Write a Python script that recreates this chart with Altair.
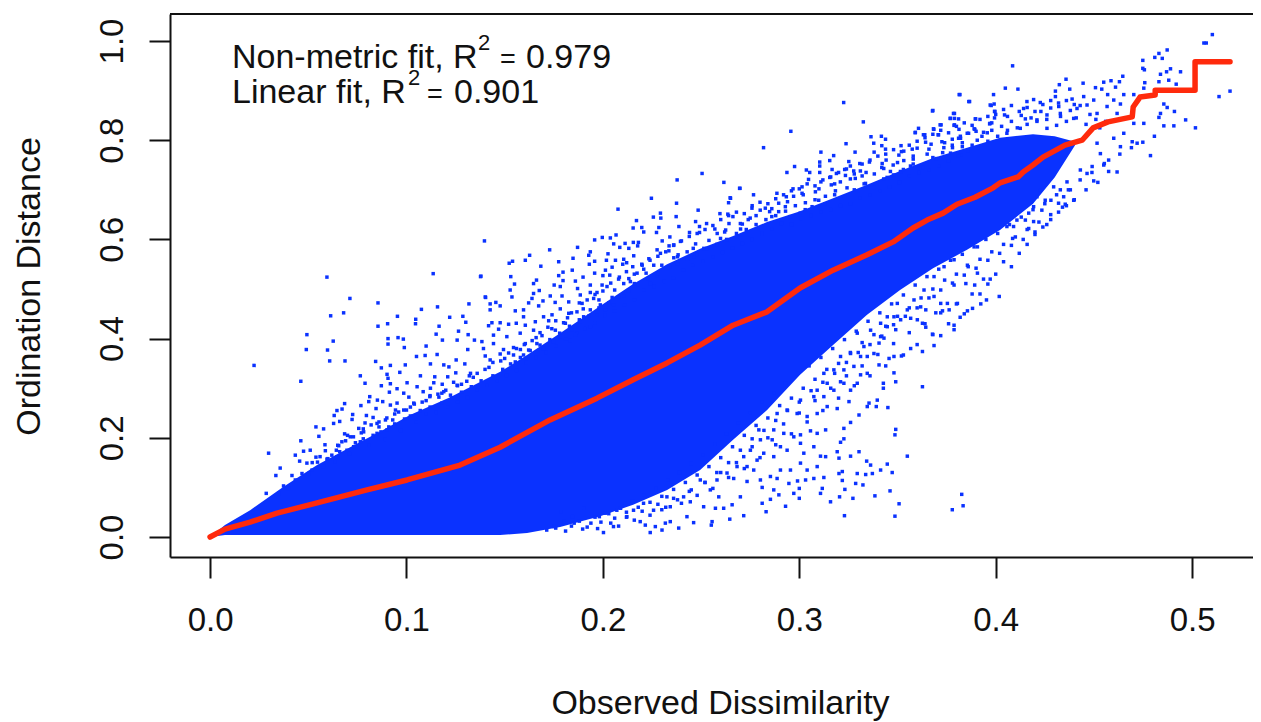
import altair as alt
import pandas as pd

BLUE = "#0A32FF"
RED = "#FF2A0C"
INK = "#111111"
FONT = "Liberation Sans"

# dense core of the cloud
core_x = [0, .0076, .0204, .0372, .0545, .0713, .0881, .1018, .1222, .1477, .1614, .1782, .1986, .2154, .2327, .2495, .2663, .2836, .3004, .3172, .3345, .3513, .3681, .3854, .4022, .4190, .4300, .4404]
core_hi = [0, .024, .054, .101, .145, .181, .216, .246, .282, .333, .367, .411, .466, .510, .550, .581, .607, .635, .657, .683, .710, .738, .764, .785, .805, .812, .808, .797]
core_lo = [0, .004, .004, .004, .004, .004, .004, .004, .004, .004, .008, .020, .042, .065, .095, .135, .196, .256, .327, .387, .448, .498, .542, .579, .619, .672, .725, .790]

# monotone fit
fit_x = [0, .0076, .0204, .0341, .0545, .0799, .1003, .1273, .1477, .1731, .1970, .2154, .2327, .2495, .2663, .2836, .3004, .3172, .3345, .3478, .3579, .3651, .3732, .3803, .3895, .3987, .4022, .4114, .4140, .4190, .4241, .4353, .4440, .4496, .4572, .4695, .4700, .4735, .4812, .4812, .5015, .5015, .5193]
fit_y = [0, .016, .030, .048, .069, .095, .115, .145, .181, .236, .280, .317, .351, .387, .427, .454, .502, .538, .569, .595, .623, .639, .653, .671, .685, .704, .714, .726, .736, .750, .766, .790, .800, .825, .837, .847, .867, .887, .891, .901, .901, .958, .958]

# individually read points, by region of the plot
upper_left = [(.0595,.524),(.1136,.531),(.1379,.526),(.0712,.481),(.1403,.483),(.0855,.472),(.068,.452),(.0614,.446),(.1158,.464),(.1076,.459),(.1318,.470),(.1047,.439),(.0954,.445),(.122,.443),(.1287,.445),(.0904,.430),(.0855,.425),(.1046,.430),(.1166,.425),(.1302,.433),(.0493,.408),(.1265,.415),(.1151,.409),(.0906,.400),(.0957,.402),(.0984,.399),(.1183,.397),(.1258,.397),(.1314,.408),(.1346,.397),(.0627,.395),(.0906,.389),(.11,.385),(.0989,.382),(.049,.378),(.0598,.377),(.1312,.378),(.1051,.364),(.1095,.366),(.1156,.368),(.0609,.355),(.0687,.355),(.0224,.346),(.0843,.354),(.1253,.357),(.1122,.349),(.0994,.347),(.0918,.346),(.0872,.341),(.119,.347),(.1297,.349),(.1216,.343),(.0966,.332),(.0765,.325),(.0901,.328),(.1071,.325),(.1144,.323),(.121,.323),(.1251,.331),(.1326,.330),(.0462,.314),(.0906,.320),(.0789,.310),(.1139,.311),(.1307,.314),(.0918,.309),(.1003,.311),(.0872,.305),(.1054,.303),(.1182,.308),(.0952,.299),(.1122,.300),(.1258,.306),(.0913,.292),(.0986,.290),(.1085,.293),(.119,.293),(.0813,.283),(.1119,.283),(.1012,.282),(.1224,.286),(.0685,.269),(.0808,.273),(.0852,.276),(.0879,.273),(.0768,.265),(.0952,.270),(.1037,.270),(.1165,.282),(.0672,.258),(.0646,.255),(.0845,.259),(.0918,.266),(.0632,.245),(.0726,.247),(.0796,.245),(.083,.241),(.0944,.256),(.0986,.256),(.0723,.237),(.0629,.229),(.066,.233),(.0789,.230),(.085,.229),(.0893,.236),(.0539,.222),(.0578,.218),(.0757,.219),(.0782,.212),(.0901,.216),(.0685,.208),(.0554,.203),(.0714,.202),(.0462,.194),(.0585,.186),(.0765,.192),(.085,.209),(.0671,.192),(.0655,.184),(.051,.175),(.0476,.173),(.0298,.169),(.0587,.174),(.0643,.175),(.0731,.182),(.0697,.175),(.0434,.165),(.0539,.161),(.0595,.157),(.0646,.162),(.0456,.153),(.0493,.149),(.0547,.151),(.0637,.152),(.0357,.139),(.0519,.135),(.0578,.142),(.0335,.124),(.0417,.124),(.0468,.128),(.0502,.128),(.0374,.103),(.0434,.115),(.0286,.088),(.0349,.088),(.0399,.098)]

upper_mid = [(.2505,.733),(.2378,.720),(.2616,.715),(.2698,.703),(.2247,.683),(.265,.683),(.264,.674),(.2375,.673),(.2077,.661),(.2485,.659),(.2293,.653),(.2596,.652),(.2636,.651),(.2257,.645),(.2295,.643),(.2373,.646),(.2662,.646),(.2171,.638),(.2472,.636),(.2528,.632),(.2642,.632),(.274,.640),(.271,.631),(.2154,.623),(.2198,.624),(.2285,.624),(.2387,.626),(.2492,.626),(.257,.621),(.2625,.619),(.2208,.615),(.2273,.614),(.2441,.614),(.2492,.614),(.2701,.621),(.2067,.609),(.1997,.604),(.1958,.599),(.1397,.597),(.2038,.603),(.2341,.605),(.2302,.597),(.2395,.596),(.2472,.591),(.2582,.612),(.2599,.602),(.2684,.605),(.2055,.591),(.2113,.592),(.2155,.594),(.2181,.594),(.2337,.587),(.2361,.589),(.1871,.584),(.1729,.579),(.2086,.584),(.2132,.582),(.2177,.587),(.2276,.579),(.2336,.577),(.2429,.575),(.2514,.582),(.1936,.575),(.1627,.568),(.2026,.571),(.1928,.568),(.2157,.567),(.2383,.569),(.2463,.565),(.2293,.572),(.1605,.558),(.154,.556),(.1523,.552),(.1775,.555),(.1848,.562),(.1958,.556),(.2018,.558),(.2064,.558),(.2106,.560),(.2234,.561),(.2361,.563),(.1931,.550),(.2101,.550),(.2198,.550),(.2121,.553),(.1684,.546),(.2259,.548),(.2047,.544),(.2152,.545),(.2208,.540),(.1797,.534),(.1844,.538),(.1958,.532),(.2013,.538),(.2341,.545),(.1377,.525),(.1531,.525),(.1775,.527),(.1899,.524),(.2,.527),(.2035,.528),(.2084,.524),(.2174,.532),(.2276,.526),(.2132,.521),(.1797,.517),(.186,.516),(.1662,.518),(.155,.510),(.1752,.508),(.1783,.505),(.1936,.508),(.1647,.511),(.1996,.508),(.2021,.505),(.2106,.511),(.216,.511),(.2242,.511),(.1528,.498),(.1871,.501),(.1676,.497),(.1647,.491),(.1732,.486),(.1792,.486),(.1885,.488),(.1936,.493),(.197,.493),(.1401,.484),(.1537,.484),(.1639,.481),(.2047,.483),(.2106,.486),(.1757,.473),(.1826,.474),(.1894,.471),(.1953,.481),(.1455,.473),(.1426,.470),(.1477,.466),(.1622,.472),(.1695,.476),(.1673,.466),(.1987,.468),(.2055,.468),(.1426,.458),(.1554,.456),(.1596,.458),(.1783,.460),(.1826,.451),(.1868,.454),(.1936,.458),(.2013,.458),(.1596,.444),(.1698,.444),(.1741,.448),(.1902,.444),(.197,.448),(.1418,.426),(.1477,.432),(.152,.429),(.1559,.431),(.1605,.427),(.1656,.434),(.1724,.436),(.1809,.431),(.1885,.434),(.1435,.432),(.1469,.419),(.1579,.411),(.1647,.417),(.1758,.417),(.1843,.417),(.1936,.424),(.1443,.407),(.1511,.404),(.169,.406),(.1783,.404),(.1868,.411),(.1384,.394),(.1443,.390),(.1605,.390),(.1664,.390),(.1749,.394),(.1834,.396),(.1392,.380),(.1494,.378),(.1545,.382),(.1622,.377),(.1698,.380),(.1477,.369),(.1545,.367),(.1401,.365),(.1426,.357),(.1554,.353),(.1596,.367)]

upper_right = [(.3818,.892),(.3867,.878),(.3226,.876),(.3977,.870),(.368,.860),(.3996,.858),(.379,.854),(.377,.844),(.3898,.843),(.379,.844),(.3326,.837),(.3722,.831),(.379,.831),(.3971,.834),(.2957,.818),(.3607,.824),(.3685,.822),(.3813,.822),(.3894,.822),(.3591,.816),(.3639,.811),(.3707,.811),(.3957,.815),(.3365,.807),(.3418,.808),(.3439,.802),(.3779,.802),(.3821,.804),(.3855,.814),(.3643,.796),(.3726,.797),(.3379,.794),(.3238,.793),(.3671,.792),(.3779,.790),(.2818,.785),(.342,.789),(.3518,.789),(.383,.787),(.3906,.800),(.3439,.782),(.36,.784),(.3736,.785),(.311,.776),(.3284,.776),(.3381,.776),(.3532,.778),(.3575,.782),(.3651,.772),(.377,.774),(.3175,.769),(.3507,.770),(.3697,.763),(.3821,.770),(.3104,.756),(.3155,.759),(.3252,.757),(.3308,.753),(.3357,.756),(.3422,.753),(.3442,.760),(.3532,.759),(.358,.762),(.2976,.747),(.3104,.748),(.326,.748),(.3036,.740),(.3167,.741),(.3231,.741),(.343,.743),(.3478,.750),(.3566,.748),(.2937,.735),(.3053,.735),(.3189,.733),(.3104,.735),(.3277,.738),(.3311,.738),(.3382,.732),(.3464,.737),(.3515,.737),(.3155,.725),(.3235,.729),(.3447,.725),(.332,.728),(.3047,.721),(.3285,.723),(.3209,.716),(.311,.716),(.3337,.713),(.3014,.706),(.3163,.710),(.3243,.704),(.2968,.702),(.2696,.703),(.3082,.696),(.3184,.698),(.2886,.693),(.3014,.693),(.2767,.690),(.2934,.686),(.2971,.687),(.3133,.687),(.2648,.684),(.2895,.673),(.3031,.674),(.3099,.679),(.2827,.663),(.2759,.663),(.2801,.659),(.2929,.666),(.3065,.666),(.2849,.656),(.2895,.656),(.3005,.653),(.275,.643),(.286,.646),(.2954,.646)]

tail = [(.5103,1.013),(.5072,.996),(.506,.996),(.4873,.982),(.4831,.975),(.481,.967),(.4848,.965),(.4749,.961),(.4086,.950),(.4749,.945),(.4757,.942),(.489,.944),(.487,.938),(.4839,.933),(.4941,.938),(.4881,.921),(.4831,.918),(.4919,.913),(.4647,.929),(.4358,.923),(.4587,.920),(.463,.918),(.455,.917),(.4445,.915),(.4324,.912),(.461,.907),(.4759,.916),(.4754,.905),(.4049,.905),(.4113,.903),(.4304,.899),(.4377,.903),(.4508,.906),(.454,.903),(.5193,.899),(.5137,.888),(.3814,.892),(.3989,.892),(.4304,.888),(.4448,.888),(.457,.892),(.4652,.892),(.4703,.892),(.3863,.878),(.4159,.878),(.4193,.882),(.4227,.876),(.4389,.883),(.4499,.881),(.4601,.881),(.3972,.871),(.3992,.873),(.4142,.864),(.4856,.873),(.4873,.866),(.3994,.858),(.3678,.859),(.4321,.868),(.4414,.864),(.4465,.871),(.4567,.868),(.4635,.873),(.4045,.851),(.491,.858),(.4839,.854),(.3785,.854),(.4831,.846),(.3768,.844),(.3896,.843),(.3994,.845),(.4261,.851),(.4329,.854),(.4516,.854),(.4618,.854),(.3811,.843),(.4967,.841),(.4151,.843),(.421,.841),(.4397,.844),(.3788,.830),(.3717,.831),(.3969,.833),(.4754,.834),(.4703,.834),(.4856,.829),(.4907,.829),(.3683,.823),(.389,.823),(.5017,.825),(.359,.815),(.3632,.811),(.3709,.811),(.3938,.816),(.4125,.824),(.4261,.824),(.3811,.804),(.3862,.814),(.4057,.814),(.4652,.814),(.4808,.808),(.472,.794),(.4749,.796),(.4601,.804),(.4695,.797),(.4788,.769),(.4691,.785),(.4635,.787),(.4632,.772),(.4575,.760),(.4553,.753),(.4618,.736),(.4575,.737),(.4499,.718),(.4465,.733),(.4491,.747),(.4533,.773),(.4516,.794),(.4431,.740),(.438,.700),(.4397,.679),(.4329,.700),(.4346,.686),(.4281,.679),(.4354,.671),(.432,.673),(.4235,.659),(.4193,.636),(.4151,.639),(.4108,.639),(.4168,.622),(.4091,.626),(.4057,.626),(.4086,.602),(.4261,.716),(.4227,.700),(.4295,.706),(.4363,.716),(.4193,.666),(.4168,.653),(.4252,.679),(.421,.686)]

lower_right = [(.4018,.485),(.3953,.478),(.3972,.520),(.3938,.520),(.3893,.508),(.3907,.532),(.3848,.511),(.3788,.508),(.3924,.470),(.3882,.461),(.3856,.456),(.3819,.443),(.3754,.471),(.3805,.471),(.372,.471),(.3763,.458),(.3729,.456),(.3695,.452),(.3644,.458),(.3788,.427),(.3788,.418),(.372,.406),(.3678,.409),(.3627,.431),(.3601,.438),(.3567,.441),(.3644,.423),(.3686,.386),(.3627,.374),(.3567,.380),(.353,.367),(.3482,.364),(.3431,.401),(.3406,.391),(.3448,.424),(.3491,.418),(.3627,.303),(.3482,.331),(.3491,.313),(.3428,.310),(.3428,.300),(.3457,.360),(.3406,.347),(.3346,.364),(.338,.370),(.3346,.330),(.3312,.327),(.3295,.310),(.3227,.310),(.3261,.296),(.3397,.276),(.3355,.270),(.3346,.263),(.3451,.261),(.3392,.263),(.3304,.246),(.3261,.231),(.3227,.219),(.3253,.273),(.3193,.259),(.3142,.263),(.3491,.217),(.3487,.206),(.3227,.198),(.321,.191),(.3134,.216),(.3091,.209),(.3057,.214),(.3006,.206),(.355,.163),(.3304,.172),(.3193,.172),(.3202,.159),(.3134,.162),(.3108,.163),(.3074,.182),(.3006,.189),(.3023,.169),(.3261,.163),(.3343,.153),(.3448,.147),(.3363,.145),(.3414,.135),(.3295,.128),(.3473,.130),(.3372,.128),(.3338,.126),(.3219,.132),(.3202,.128),(.3125,.120),(.3074,.118),(.304,.135),(.3091,.142),(.3006,.149),(.2955,.135),(.2904,.135),(.2853,.122),(.2887,.118),(.2802,.115),(.3032,.115),(.2991,.113),(.3219,.114),(.3324,.105),(.3287,.108),(.3117,.098),(.3232,.096),(.3462,.093),(.3,.098),(.2947,.108),(.287,.095),(.2811,.100),(.3827,.086),(.3108,.088),(.3205,.081),(.3273,.078),(.3385,.083),(.2896,.085),(.2972,.088),(.2853,.076),(.3508,.067),(.3159,.071),(.2811,.068),(.3,.078),(.3834,.063),(.3779,.055),(.293,.062),(.2831,.051),(.323,.043),(.3487,.042),(.2717,.043),(.2646,.036),(.2556,.031),(.2552,.024),(.2462,.029),(.2428,.041),(.2241,.009),(.2003,.009),(.2054,.021),(.219,.031),(.2267,.021),(.2318,.028),(.2386,.018),(.2301,.014),(.2343,.031),(.2216,.024),(.2122,.041),(.2513,.061),(.2573,.058),(.2615,.058),(.2658,.065),(.259,.081),(.27,.081),(.2734,.112),(.2666,.118),(.2547,.095),(.2445,.071),(.2343,.061),(.2258,.054),(.2156,.054),(.2071,.054),(.2012,.048),(.2768,.135),(.2734,.142),(.2683,.142),(.2632,.129),(.2581,.115),(.2496,.115),(.2411,.081),(.2326,.081),(.2207,.068),(.2114,.068),(.2819,.169),(.2785,.155),(.287,.162),(.2938,.175),(.2904,.182),(.2862,.196),(.2802,.196),(.2751,.175),(.2717,.162),(.2972,.202),(.2921,.209),(.287,.216),(.2794,.216),(.3091,.249),(.304,.243),(.2989,.249),(.2938,.256),(.2887,.249),(.3006,.276),(.3074,.283),(.3125,.283),(.3176,.296),(.321,.313),(.3142,.310),(.3091,.296),(.3278,.344),(.3227,.337),(.3176,.337),(.3125,.330),(.3312,.364),(.3261,.370),(.321,.364),(.3329,.384),(.3295,.411),(.3414,.431),(.3363,.417),(.3516,.438),(.3482,.444),(.355,.458),(.3499,.471),(.3584,.478),(.3635,.498),(.3686,.525),(.3737,.545),(.3788,.559),(.3856,.548),(.3907,.585),(.3686,.485),(.3618,.464),(.3448,.444),(.3414,.404)]

lower_left = [(.1714,.014),(.1752,.021),(.1803,.031),(.1854,.028),(.1897,.016),(.1939,.028),(.1973,.017),(.1982,.041),(.1905,.058),(.1846,.041),(.1786,.051)]

# packed fringe hugging the core, above it
fringe_upper = [(.062,.165),(.066,.172),(.071,.168),(.074,.190),(.078,.198),(.081,.185),(.083,.205),(.087,.212),(.089,.197),(.091,.222),(.094,.228),(.097,.215),(.099,.238),(.102,.244),(.105,.232),(.107,.255),(.110,.248),(.112,.262),(.115,.251),(.118,.270),(.121,.262),(.123,.280),(.126,.272),(.128,.292),(.131,.281),(.133,.303),(.136,.296),(.138,.315),(.141,.306),(.144,.325),(.146,.315),(.149,.338),(.151,.326),(.153,.349),(.156,.336),(.158,.362),(.161,.352),(.163,.376),(.166,.362),(.168,.387),(.171,.372),(.173,.398),(.176,.385),(.178,.411),(.181,.399),(.183,.425),(.186,.408),(.188,.438),(.191,.420),(.193,.446),(.196,.432),(.198,.462),(.201,.447),(.203,.472),(.206,.456),(.208,.484),(.211,.468),(.213,.497),(.216,.478),(.218,.508),(.221,.498),(.223,.520),(.226,.505),(.228,.531),(.231,.515),(.233,.542),(.236,.522),(.238,.551),(.241,.538),(.243,.561),(.246,.548),(.248,.570),(.251,.556),(.253,.582),(.256,.565),(.258,.590),(.261,.574),(.263,.600),(.266,.583),(.268,.612),(.271,.592),(.273,.620),(.276,.600),(.278,.630),(.281,.612),(.283,.640),(.286,.621),(.288,.648),(.291,.632),(.293,.657),(.296,.630),(.298,.668),(.301,.642),(.303,.660),(.306,.648),(.308,.680),(.311,.655),(.313,.672),(.316,.660),(.318,.690),(.321,.668),(.323,.685),(.326,.672),(.328,.700),(.331,.684),(.333,.712),(.336,.690),(.338,.705),(.341,.698),(.343,.722),(.346,.706),(.348,.730),(.351,.715),(.353,.741),(.356,.728),(.358,.752),(.361,.735),(.363,.745),(.366,.740),(.368,.765),(.371,.748),(.373,.775),(.376,.758),(.378,.785),(.381,.768),(.383,.795),(.386,.778),(.388,.790),(.391,.785),(.393,.808),(.396,.798),(.398,.820),(.401,.808),(.403,.828),(.406,.820),(.408,.838),(.411,.825),(.413,.850),(.416,.832),(.418,.845),(.421,.838),(.423,.858),(.426,.842),(.428,.865),(.431,.830),(.433,.848),(.436,.838),(.438,.860),(.441,.845),(.443,.870),(.446,.832),(.448,.852),(.451,.842),(.453,.825),(.456,.838),
                (.070,.205),(.078,.218),(.086,.232),(.094,.248),(.102,.262),(.110,.275),(.118,.290),(.126,.305),(.134,.322),(.142,.342),(.150,.360),(.158,.378),(.166,.402),(.174,.420),(.182,.442),(.190,.460),(.198,.478),(.206,.498),(.214,.515),(.222,.532),(.230,.548),(.238,.565),(.246,.582),(.254,.598),(.262,.615),(.270,.632),(.278,.648),(.286,.662),(.294,.676),(.302,.690),(.310,.702),(.318,.712),(.326,.722),(.334,.735),(.342,.745),(.350,.755),(.358,.768),(.366,.782),(.374,.795),(.382,.808),(.390,.818),(.398,.835),(.406,.848),
                (.052,.150),(.056,.162),(.060,.158),(.065,.185),(.069,.194),(.073,.202),(.077,.210),(.082,.226),(.086,.222),(.090,.240),(.093,.236),(.096,.252),(.100,.256),(.104,.268),(.108,.272),(.112,.285),(.116,.288),(.120,.296),(.124,.312),(.128,.308),(.132,.325),(.136,.330),(.140,.338),(.144,.352),(.148,.355),(.152,.371),(.156,.380),(.160,.388),(.164,.396),(.168,.412),(.172,.423),(.176,.436),(.180,.432),(.184,.452),(.188,.472),(.192,.478),(.196,.489),(.200,.496),(.204,.512),(.208,.520),(.212,.535),(.216,.530),(.220,.548),(.224,.558),(.228,.566),(.232,.575),(.236,.588),(.240,.597),(.244,.606),(.248,.612),(.252,.620),(.256,.628),(.260,.640),(.264,.648),(.268,.655),(.272,.652),(.276,.668),(.280,.675),(.284,.672),(.288,.682),(.292,.690),(.296,.698),(.300,.702),(.304,.712),(.308,.708),(.312,.720),(.316,.726),(.320,.735),(.324,.742),(.328,.732),(.332,.752),(.336,.760),(.340,.768),(.344,.772),(.348,.781),(.352,.777),(.356,.790),(.360,.798),(.364,.805),(.368,.812),(.372,.820),(.376,.815),(.380,.828),(.384,.835),(.388,.830),(.392,.842),(.396,.848),(.400,.852),(.404,.862),(.408,.870),(.412,.858),(.416,.866),(.420,.858),(.424,.872),(.428,.880),(.432,.875),(.436,.880),(.440,.872)]

# packed fringe hugging the core, below it
fringe_lower = [(.176,.018),(.181,.012),(.184,.022),(.188,.032),(.192,.020),(.196,.040),(.199,.030),(.203,.047),(.206,.038),(.209,.058),(.212,.050),(.215,.073),(.218,.060),(.221,.085),(.224,.070),(.227,.098),(.230,.082),(.233,.115),(.236,.096),(.239,.130),(.242,.110),(.245,.148),(.248,.125),(.251,.165),(.254,.142),(.257,.188),(.260,.160),(.263,.208),(.266,.182),(.269,.230),(.272,.205),(.275,.250),(.278,.225),(.281,.272),(.284,.240),(.287,.290),(.290,.265),(.293,.310),(.296,.280),(.299,.330),(.302,.300),(.305,.345),(.308,.318),(.311,.362),(.314,.338),(.317,.380),(.320,.350),(.323,.398),(.326,.372),(.329,.415),(.332,.392),(.335,.435),(.338,.408),(.341,.452),(.344,.425),(.347,.470),(.350,.445),(.353,.488),(.356,.462),(.359,.508),(.362,.482),(.365,.525),(.368,.500),(.371,.540),(.374,.518),(.377,.558),(.380,.530),(.383,.570),(.386,.545),(.389,.585),(.392,.560),(.395,.600),(.398,.575),(.401,.612),(.404,.590),(.407,.630),(.410,.605),(.413,.645),(.416,.620),(.419,.660),(.422,.635),(.425,.672),(.428,.650),(.431,.690),(.434,.665),(.437,.700),(.440,.680),(.443,.720),(.446,.700),(.449,.735),(.452,.715),(.455,.750),
                (.230,.055),(.238,.075),(.245,.095),(.252,.110),(.258,.130),(.264,.150),(.270,.175),(.276,.198),(.282,.215),(.288,.235),(.294,.255),(.300,.272),(.306,.295),(.312,.312),(.318,.330),(.324,.352),(.330,.372),(.336,.388),(.342,.405),(.348,.428),(.354,.445),(.360,.462),(.366,.482),(.372,.498),(.378,.512),(.384,.528),(.390,.542),(.396,.558),(.402,.572),(.408,.588),(.414,.600),(.420,.615),(.426,.630),
                (.204,.028),(.208,.022),(.212,.040),(.216,.034),(.220,.052),(.224,.044),(.228,.066),(.232,.060),(.236,.078),(.240,.068),(.244,.092),(.248,.084),(.252,.110),(.256,.098),(.260,.130),(.264,.120),(.268,.150),(.272,.138),(.276,.182),(.280,.160),(.284,.200),(.288,.186),(.292,.228),(.296,.208),(.300,.250),(.304,.232),(.308,.275),(.312,.255),(.316,.300),(.320,.280),(.324,.325),(.328,.305),(.332,.345),(.336,.325),(.340,.368),(.344,.345),(.348,.390),(.352,.365),(.356,.412),(.360,.388),(.364,.430),(.368,.408),(.372,.452),(.376,.430),(.380,.470),(.384,.450),(.388,.490),(.392,.490),(.396,.510),(.400,.530),(.404,.555),(.408,.545),(.412,.572),(.416,.590),(.420,.610),(.424,.625),(.428,.640),(.432,.655),(.436,.668)]

x_ticks = [0.0, 0.1, 0.2, 0.3, 0.4, 0.5]
y_ticks = [0.0, 0.2, 0.4, 0.6, 0.8, 1.0]
x_label = "Observed Dissimilarity"
y_label = "Ordination Distance"

PLOT_W, PLOT_H = 1083, 543
x_scale = alt.Scale(domain=[-0.0204, 0.5310], nice=False, zero=False)
y_scale = alt.Scale(domain=[-0.0403, 1.0545], nice=False, zero=False)

core_df = pd.DataFrame({"x": core_x, "hi": core_hi, "lo": core_lo})
fit_df = pd.DataFrame({"x": fit_x, "y": fit_y, "i": range(len(fit_x))})
pts = upper_left + upper_mid + upper_right + tail + lower_right + lower_left + fringe_upper + fringe_lower
pts_df = pd.DataFrame(pts, columns=["x", "y"])

axis_common = dict(
    domainColor=INK, domainWidth=2, tickColor=INK, tickWidth=2, tickSize=21,
    labelFont=FONT, labelFontSize=33, labelColor=INK, grid=False,
    titleFont=FONT, titleFontSize=34, titleFontWeight="normal", titleColor=INK,
)

core = alt.Chart(core_df).mark_area(color=BLUE, opacity=1).encode(
    x=alt.X("x:Q", scale=x_scale, axis=alt.Axis(
        values=x_ticks, format=".1f", title=x_label, labelPadding=42, labelBaseline="middle",
        labelAngle=0, titleX=550, titleY=146, titleAlign="center", titleBaseline="middle",
        **axis_common)),
    y=alt.Y("hi:Q", scale=y_scale, axis=alt.Axis(
        values=y_ticks, format=".1f", title=y_label, labelAngle=270, labelAlign="center",
        labelBaseline="alphabetic", labelPadding=27, titleAngle=270, titleX=-141, titleY=272,
        titleAlign="center", titleBaseline="middle", **axis_common)),
    y2="lo:Q",
)

points = alt.Chart(pts_df).mark_square(color=BLUE, size=12, opacity=1, filled=True).encode(
    x=alt.X("x:Q", scale=x_scale), y=alt.Y("y:Q", scale=y_scale))

fit = alt.Chart(fit_df).mark_line(color=RED, strokeWidth=5.5, strokeCap="round", strokeJoin="round").encode(
    x=alt.X("x:Q", scale=x_scale), y=alt.Y("y:Q", scale=y_scale), order="i:Q")

top_edge = alt.Chart(pd.DataFrame({"v": [1]})).mark_rule(color=INK, strokeWidth=2).encode(
    x=alt.value(0), x2=alt.value(PLOT_W), y=alt.value(0))


def note(text, px, py, size):
    return alt.Chart(pd.DataFrame({"t": [text]})).mark_text(
        font=FONT, fontSize=size, color=INK, align="left", baseline="alphabetic"
    ).encode(x=alt.value(px), y=alt.value(py), text="t:N")


notes = [
    note("Non-metric fit, R", 62, 54, 34), note("2", 308, 36, 22), note("=", 330, 54, 27), note("0.979", 356, 54, 34),
    note("Linear fit, R", 62, 89, 34), note("2", 238, 71, 22), note("=", 257, 89, 27), note("0.901", 284, 89, 34),
]

chart = alt.layer(core, points, fit, top_edge, *notes).properties(
    width=PLOT_W, height=PLOT_H, autosize=alt.AutoSizeParams(type="none"),
    padding={"left": 162, "top": 6, "right": 0, "bottom": 164},
).configure_view(stroke=None)

chart.save("out.html", embed_options={"renderer": "svg", "actions": False})
